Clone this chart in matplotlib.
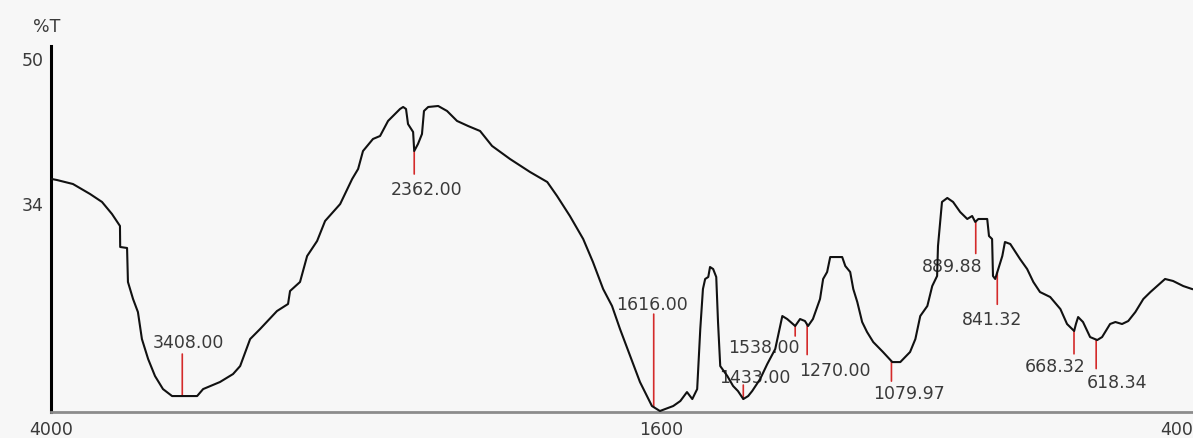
import numpy as np
import matplotlib
matplotlib.use("Agg")
import matplotlib.pyplot as plt

# IR spectrum: wavenumber (cm-1) and transmittance (%T)
wavenumber = [3996, 3973, 3901, 3824, 3770, 3725, 3689, 3688, 3657, 3653,
              3630, 3608, 3590, 3562, 3531, 3495, 3454, 3341, 3314, 3238,
              3179, 3147, 3102, 3057, 2981, 2931, 2922, 2877, 2845, 2800,
              2764, 2696, 2642, 2615, 2593, 2548, 2516, 2480, 2426, 2412,
              2399, 2390, 2367, 2362, 2345, 2327, 2318, 2299, 2254, 2214,
              2169, 2119, 2065, 2011, 1940, 1895, 1856, 1834, 1805, 1775,
              1753, 1730, 1710, 1692, 1669, 1647, 1620, 1602, 1572, 1556,
              1541, 1529, 1518, 1511, 1505, 1500, 1493, 1489, 1482, 1475,
              1471, 1466, 1450, 1437, 1426, 1414, 1403, 1394, 1376, 1360,
              1342, 1331, 1326, 1315, 1297, 1286, 1275, 1268, 1257, 1241,
              1234, 1225, 1218, 1191, 1184, 1173, 1166, 1157, 1146, 1135,
              1121, 1099, 1078, 1060, 1038, 1026, 1015, 999, 988, 977,
              975, 966, 954, 941, 925, 909, 898, 891, 884, 864,
              860, 853, 851, 846, 839, 830, 824, 812, 790, 774,
              760, 745, 722, 699, 684, 668, 664, 659, 648, 632,
              616, 605, 587, 575, 560, 546, 530, 512, 496, 481,
              463, 445, 422, 402]
transmittance = [36.64, 36.53, 36.09, 34.99, 34.11, 32.78, 31.46, 29.14, 29.03, 25.28,
                 23.40, 21.96, 18.98, 16.78, 14.90, 13.46, 12.69, 12.69, 13.46, 14.24,
                 15.12, 16.00, 18.98, 20.09, 22.07, 22.85, 24.28, 25.28, 28.14, 29.80,
                 32.01, 33.88, 36.64, 37.75, 39.73, 41.06, 41.39, 43.05, 44.37, 44.59,
                 44.37, 42.71, 41.83, 39.73, 40.51, 41.61, 44.15, 44.59, 44.70, 44.15,
                 43.05, 42.49, 41.94, 40.29, 38.85, 37.42, 36.31, 34.77, 32.56, 30.02,
                 27.48, 24.50, 22.63, 20.09, 17.11, 14.24, 11.59, 11.04, 11.59, 12.14,
                 13.13, 12.36, 13.46, 20.09, 24.50, 25.61, 25.83, 26.93, 26.71, 25.83,
                 20.86, 16.00, 14.90, 13.80, 13.24, 12.36, 12.69, 13.24, 14.57, 16.22,
                 17.88, 20.42, 21.52, 21.19, 20.42, 21.19, 20.97, 20.42, 21.19, 23.40,
                 25.61, 26.38, 28.03, 28.03, 27.04, 26.38, 24.50, 23.07, 20.86, 19.76,
                 18.65, 17.55, 16.44, 16.44, 17.55, 18.98, 21.52, 22.63, 24.83, 25.94,
                 29.25, 34.11, 34.55, 34.11, 33.00, 32.23, 32.56, 31.90, 32.23, 32.23,
                 30.35, 30.02, 25.94, 25.61, 26.71, 28.14, 29.69, 29.47, 27.81, 26.71,
                 25.28, 24.17, 23.62, 22.29, 20.64, 19.87, 20.64, 21.41, 20.86, 19.20,
                 18.87, 19.20, 20.64, 20.86, 20.64, 20.97, 21.96, 23.40, 24.17, 24.83,
                 25.61, 25.39, 24.83, 24.50]

# Peak picks: marker position (cm-1) and printed label
peak_positions = [3408, 2362, 1616, 1297, 1414, 1270, 1079.97, 889.88, 841.32, 668.32, 618.34]
peak_labels = ["3408.00", "2362.00", "1616.00", "1538.00", "1433.00", "1270.00",
               "1079.97", "889.88", "841.32", "668.32", "618.34"]
# marker length and label offset (pixels, relative to the point on the trace)
marker_len = [42, -23, 93, -10, 14, -30, -20, -32, -32, -23, -29]
label_off = [(6, 54), (12, -38), (-2, 103), (-31, -21), (12, 22), (28, -45),
             (18, -32), (-24, -45), (-5, -47), (-19, -35), (21, -42)]

y_ticks = [50, 34]
x_ticks = [4000, 1600, 400]

# Wavenumber axis: region below the break is drawn at twice the scale
BREAK = 1950.0


def fwd(w):
    w = np.asarray(w, dtype=float)
    return np.where(w >= BREAK, w, 2.0 * w - BREAK)


def inv(u):
    u = np.asarray(u, dtype=float)
    return np.where(u >= BREAK, u, (u + BREAK) / 2.0)


BG = "#f7f7f7"
TXT = "#3a3a3a"
RED = "#d42a2a"

fig = plt.figure(figsize=(11.93, 4.39), dpi=100, facecolor=BG)
ax = fig.add_axes([51 / 1193, 26 / 439, 1142 / 1193, 366 / 439])
ax.set_facecolor(BG)
ax.set_xscale("function", functions=(fwd, inv))
ax.set_xlim(4000, 400)
ax.set_ylim(10.93, 51.32)

ax.plot(wavenumber, transmittance, color="#111111", lw=1.5, zorder=3)

wn_sorted = np.array(wavenumber[::-1], dtype=float)
t_sorted = np.array(transmittance[::-1], dtype=float)
for pos, lab, L, (dx, dy) in zip(peak_positions, peak_labels, marker_len, label_off):
    t0 = float(np.interp(pos, wn_sorted, t_sorted))
    ax.annotate("", xy=(pos, t0), xytext=(0, L), textcoords="offset pixels",
                arrowprops=dict(arrowstyle="-", color=RED, lw=1.2,
                                shrinkA=0, shrinkB=0), zorder=2)
    ax.annotate(lab, xy=(pos, t0), xytext=(dx, dy), textcoords="offset pixels",
                ha="center", va="center", fontsize=12.5, color=TXT, zorder=2)

for s in ("top", "right"):
    ax.spines[s].set_visible(False)
ax.spines["left"].set_color("black")
ax.spines["left"].set_linewidth(2.2)
ax.spines["bottom"].set_color("#8c8c8c")
ax.spines["bottom"].set_linewidth(2.0)

ax.set_yticks(y_ticks)
ax.set_yticklabels([str(v) for v in y_ticks])
ax.set_xticks(x_ticks)
ax.set_xticklabels([str(v) for v in x_ticks])
ax.xaxis.set_minor_locator(matplotlib.ticker.NullLocator())
ax.tick_params(axis="y", length=0, pad=5.5, labelsize=12.5, labelcolor=TXT)
ax.tick_params(axis="x", length=0, pad=6.0, labelsize=12.5, labelcolor=TXT)
ax.get_xticklabels()[-1].set_ha("right")

fig.text(47 / 1193, 1 - 27 / 439, "%T", ha="center", va="center",
         fontsize=12.5, color=TXT)

fig.savefig("out.png", dpi=100, facecolor=BG)
